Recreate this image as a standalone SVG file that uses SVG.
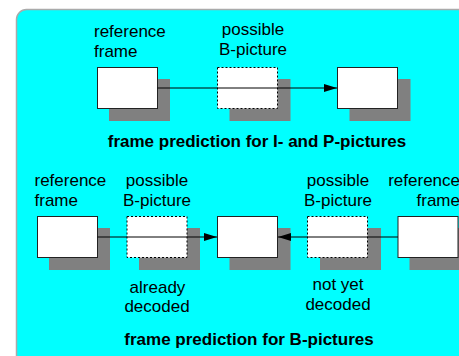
<svg xmlns="http://www.w3.org/2000/svg" width="459" height="356" viewBox="0 0 459 356">
<style>
text{font-family:"Liberation Sans",Arial,sans-serif;font-size:17px;fill:#000}
.t{font-weight:bold}
.m{text-anchor:middle}
.e{text-anchor:end}
.box{fill:#fff;stroke:#222;stroke-width:1}
.dash{fill:#fff;stroke:#000;stroke-width:1;stroke-dasharray:2 2}
.sh{fill:#808080}
.ln{stroke:#000;stroke-width:1;fill:none}
</style>
<defs>
<marker id="ah" viewBox="0 0 13 8" refX="13" refY="4" markerWidth="13" markerHeight="8" markerUnits="userSpaceOnUse" orient="auto">
<path d="M0,0 L13,4 L0,8 Z" fill="#000"/>
</marker>
</defs>
<rect x="16.5" y="9.5" width="470" height="370" rx="10" ry="10" fill="#00ffff" stroke="#aaaaaa" stroke-width="1.5"/>

<g id="top-ref">
<rect class="sh" x="109" y="79" width="61" height="42"/>
<rect class="box" x="97.5" y="67.5" width="60" height="41"/>
<text x="94" y="37">reference</text>
<text x="94" y="57">frame</text>
</g>
<g id="top-b">
<rect class="sh" x="229.5" y="79" width="61" height="42"/>
<rect class="dash" x="217.5" y="67.5" width="60" height="41"/>
<text class="m" x="253" y="35">possible</text>
<text class="m" x="253" y="55">B-picture</text>
</g>
<g id="top-target">
<rect class="sh" x="349.5" y="79" width="61" height="42"/>
<rect class="box" x="337.5" y="67.5" width="60" height="41"/>
</g>
<text class="t m" x="257" y="147">frame prediction for I- and P-pictures</text>

<g id="bot-ref-left">
<rect class="sh" x="49" y="228" width="61" height="42"/>
<rect class="box" x="37.5" y="216.5" width="60" height="41"/>
<text x="34.5" y="186">reference</text>
<text x="34.5" y="206">frame</text>
</g>
<g id="bot-b-left">
<rect class="sh" x="139" y="228" width="61" height="42"/>
<rect class="dash" x="127" y="216.5" width="60" height="41"/>
<text class="m" x="157" y="186">possible</text>
<text class="m" x="157" y="206">B-picture</text>
<text class="m" x="157.5" y="293">already</text>
<text class="m" x="157" y="312">decoded</text>
</g>
<g id="bot-target">
<rect class="sh" x="229.5" y="228" width="61" height="42"/>
<rect class="box" x="217.5" y="216.5" width="60" height="41"/>
</g>
<g id="bot-b-right">
<rect class="sh" x="320" y="228" width="61" height="42"/>
<rect class="dash" x="307.5" y="216.5" width="60" height="41"/>
<text class="m" x="338" y="186">possible</text>
<text class="m" x="338" y="206">B-picture</text>
<text class="m" x="338" y="290">not yet</text>
<text class="m" x="338" y="310">decoded</text>
</g>
<g id="bot-ref-right">
<rect class="sh" x="409.5" y="228" width="61" height="42"/>
<rect class="box" x="398" y="216.5" width="60" height="41"/>
<text class="e" x="460" y="186">reference</text>
<text class="e" x="460" y="206">frame</text>
</g>
<text class="t m" x="249" y="345">frame prediction for B-pictures</text>

<g id="connectors">
<line class="ln" x1="157.5" y1="88" x2="337" y2="88" marker-end="url(#ah)"/>
<line class="ln" x1="97.5" y1="237" x2="217" y2="237" marker-end="url(#ah)"/>
<line class="ln" x1="398" y1="237" x2="278" y2="237" marker-end="url(#ah)"/>
</g>
</svg>
